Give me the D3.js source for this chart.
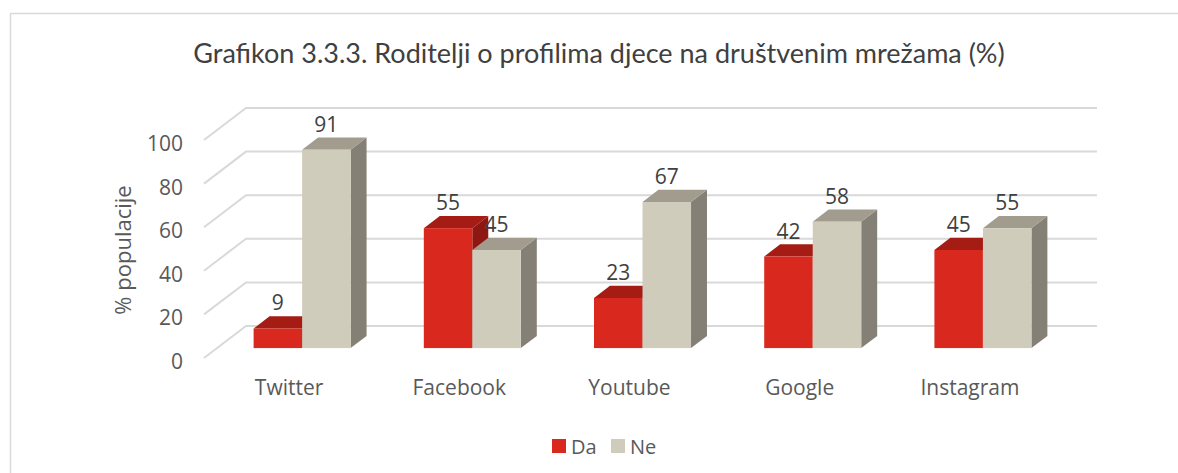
<!DOCTYPE html>
<html>
<head>
<meta charset="utf-8">
<style>
  body { margin: 0; background: #fff; }
  svg { display: block; }
</style>
</head>
<body>
<svg width="1178" height="473"></svg>
<script src="https://d3js.org/d3.v7.min.js"></script>
<script>

// chart data
var categories = ["Twitter", "Facebook", "Youtube", "Google", "Instagram"];
var seriesNames = ["Da", "Ne"];
var daValues = [9, 55, 23, 42, 45];
var neValues = [91, 45, 67, 58, 55];
var yTicks = [0, 20, 40, 60, 80, 100];

var width = 1178, height = 473;
var svg = d3.select("svg");

var font = "'Open Sans', 'Liberation Sans', sans-serif";

// colours for each series: front, top, side
var faces = {
  Da: { front: "#d9281e", top: "#a51c14", side: "#8e1811" },
  Ne: { front: "#d0ccbc", top: "#a19c8e", side: "#858075" }
};

// floor (front edge) and depth of the 3d box
var floorLeft = 204, floorRight = 1055, floorY = 358;
var depth = { dx: 42, dy: -32 };
var barFront = 0.31, barBack = 0.69;

var x = d3.scaleBand()
  .domain(categories)
  .range([floorLeft, floorRight])
  .paddingInner(0.43)
  .paddingOuter(0.215);

var xs = d3.scaleBand()
  .domain(seriesNames)
  .range([0, x.bandwidth()]);

var y = d3.scaleLinear()
  .domain([0, 100])
  .range([floorY, floorY - 218]);

// outer border
svg.append("rect")
  .attr("x", 10.5).attr("y", 13.5)
  .attr("width", 1300).attr("height", 600)
  .attr("fill", "none")
  .attr("stroke", "#d9d9d9")
  .attr("stroke-width", 1.5);

// title
svg.append("text")
  .attr("x", 599).attr("y", 63)
  .attr("text-anchor", "middle")
  .attr("font-family", "Lato, 'Open Sans', sans-serif")
  .attr("font-size", 27)
  .attr("fill", "#404040")
  .text("Grafikon 3.3.3. Roditelji o profilima djece na društvenim mrežama (%)");

// gridlines: side wall diagonal + back wall horizontal
var grid = svg.append("g");
yTicks.forEach(function(t) {
  var yf = y(t);
  grid.append("polyline")
    .attr("points", [
      [floorLeft, yf],
      [floorLeft + depth.dx, yf + depth.dy],
      [floorRight + depth.dx, yf + depth.dy]
    ].join(" "))
    .attr("fill", "none")
    .attr("stroke", "#d9d9d9")
    .attr("stroke-width", 2);
});

// y tick labels
svg.append("g").selectAll("text")
  .data(yTicks)
  .enter().append("text")
  .attr("x", 183)
  .attr("y", function(d) { return y(d) + 3; })
  .attr("text-anchor", "end")
  .attr("dominant-baseline", "central")
  .attr("font-family", font)
  .attr("font-size", 21)
  .attr("fill", "#595959")
  .text(function(d) { return d; });

// y axis title
svg.append("text")
  .attr("transform", "translate(122,250) rotate(-90)")
  .attr("text-anchor", "middle")
  .attr("dominant-baseline", "central")
  .attr("font-family", font)
  .attr("font-size", 22)
  .attr("fill", "#595959")
  .text("% populacije");

// build bar records
var bars = [];
categories.forEach(function(c, i) {
  bars.push({ cat: c, s: "Da", v: daValues[i] });
  bars.push({ cat: c, s: "Ne", v: neValues[i] });
});

var ox = depth.dx * barFront, oy = depth.dy * barFront;
var bdx = depth.dx * (barBack - barFront), bdy = depth.dy * (barBack - barFront);

var barG = svg.append("g");
bars.forEach(function(b) {
  var x0 = x(b.cat) + xs(b.s) + ox;
  var x1 = x0 + xs.bandwidth();
  var yb = y(0) + oy, yt = y(b.v) + oy;
  var col = faces[b.s];
  var g = barG.append("g");
  g.append("polygon")
    .attr("points", [[x1, yt], [x1 + bdx, yt + bdy], [x1 + bdx, yb + bdy], [x1, yb]].join(" "))
    .attr("fill", col.side);
  g.append("polygon")
    .attr("points", [[x0, yt], [x1, yt], [x1 + bdx, yt + bdy], [x0 + bdx, yt + bdy]].join(" "))
    .attr("fill", col.top);
  g.append("rect")
    .attr("x", x0).attr("y", yt)
    .attr("width", x1 - x0).attr("height", yb - yt)
    .attr("fill", col.front);
  b.cx = (x0 + x1) / 2;
  b.ty = yt;
});

// value labels
svg.append("g").selectAll("text")
  .data(bars)
  .enter().append("text")
  .attr("x", function(d) { return d.cx; })
  .attr("y", function(d) { return d.ty - 18; })
  .attr("text-anchor", "middle")
  .attr("font-family", font)
  .attr("font-size", 21)
  .attr("fill", "#404040")
  .text(function(d) { return d.v; });

// category labels
svg.append("g").selectAll("text")
  .data(categories)
  .enter().append("text")
  .attr("x", function(d) { return x(d) + x.bandwidth() / 2; })
  .attr("y", 395)
  .attr("text-anchor", "middle")
  .attr("font-family", font)
  .attr("font-size", 21)
  .attr("fill", "#595959")
  .text(function(d) { return d; });

// legend
var legend = svg.append("g");
var legendX = [552, 611];
seriesNames.forEach(function(s, i) {
  legend.append("rect")
    .attr("x", legendX[i]).attr("y", 439)
    .attr("width", 14).attr("height", 14)
    .attr("fill", faces[s].front);
  legend.append("text")
    .attr("x", legendX[i] + 19).attr("y", 446)
    .attr("dominant-baseline", "central")
    .attr("font-family", font)
    .attr("font-size", 20)
    .attr("fill", "#595959")
    .text(s);
});

</script>
</body>
</html>
